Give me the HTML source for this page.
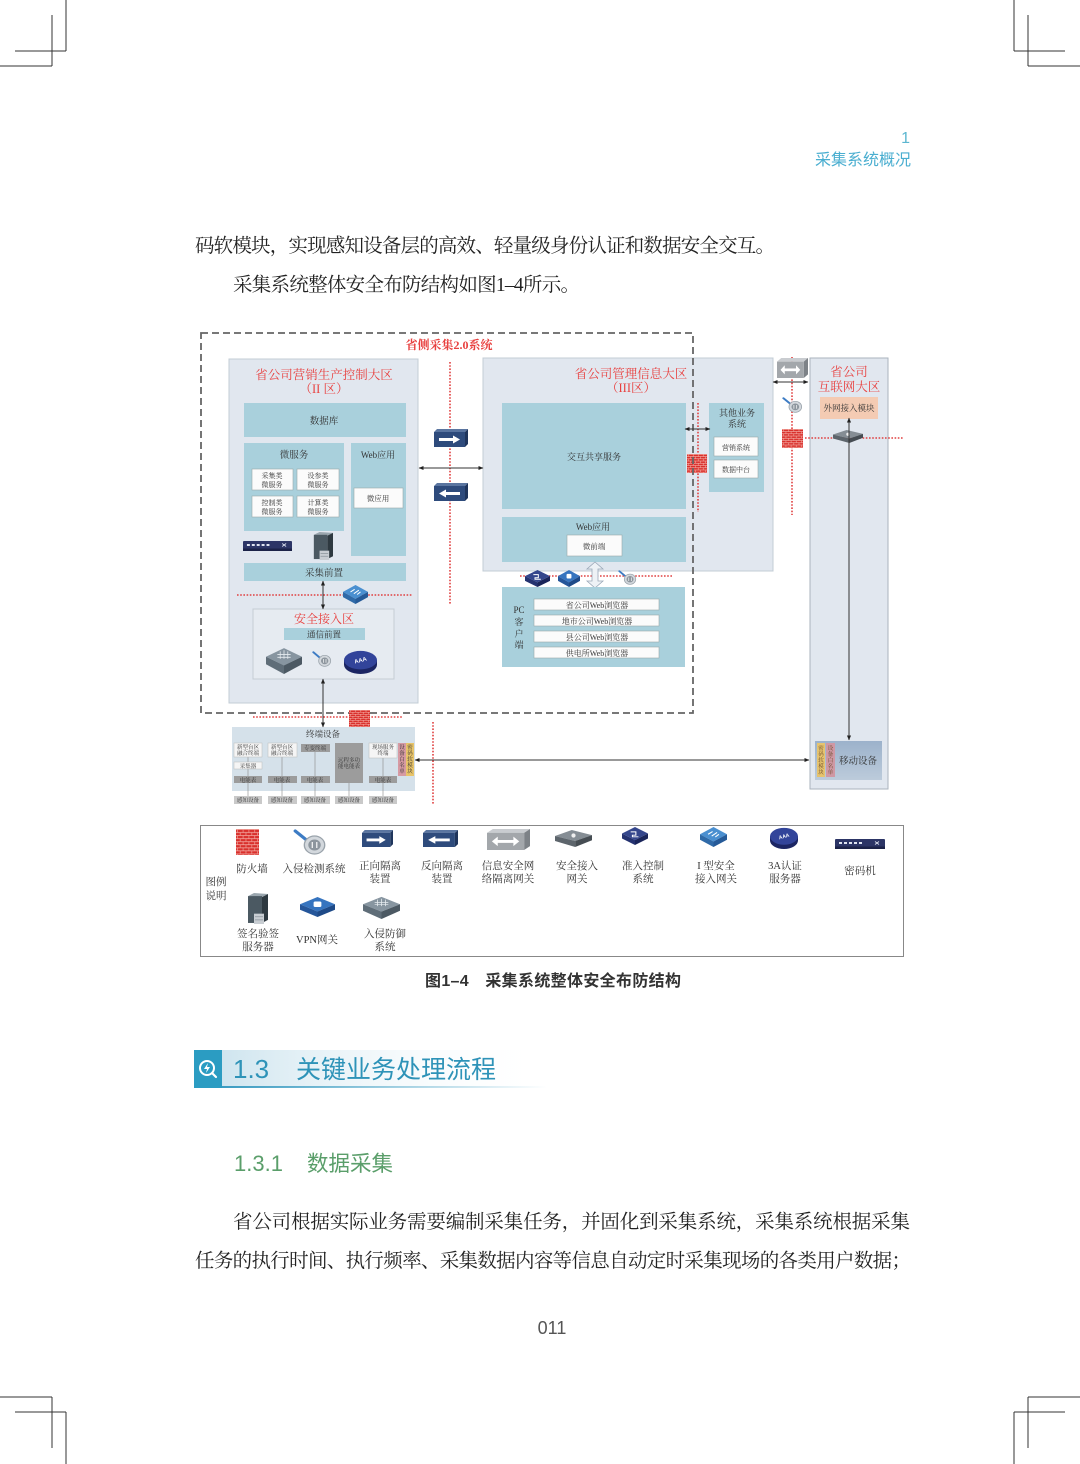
<!DOCTYPE html>
<html><head><meta charset="utf-8">
<style>
html,body{margin:0;padding:0;background:#fff;}
svg{display:block;}
.s{font-family:"Liberation Serif","Noto Serif CJK SC",serif;}
.h{font-family:"Liberation Sans","Noto Sans CJK SC",sans-serif;}
</style></head><body>
<svg width="1080" height="1464" viewBox="0 0 1080 1464" xmlns="http://www.w3.org/2000/svg">
<defs>
<pattern id="brick" width="5" height="4" patternUnits="userSpaceOnUse">
  <rect width="5" height="4" fill="#d9302c"/>
  <path d="M0 0.3H5M0 2.3H5M1.2 0.3V2.3M3.7 2.3V4" stroke="#f6b5ad" stroke-width="0.5" fill="none"/>
</pattern>
<marker id="ar" viewBox="0 0 6 6" markerWidth="5" markerHeight="5" refX="5.5" refY="3" orient="auto-start-reverse" markerUnits="userSpaceOnUse"><path d="M0,0.5L6,3L0,5.5z" fill="#222"/></marker>
<linearGradient id="hbg" x1="0" x2="1" y1="0" y2="0"><stop offset="0" stop-color="#cfe5ef"/><stop offset="1" stop-color="#ffffff" stop-opacity="0"/></linearGradient>
<linearGradient id="hln" x1="0" x2="1" y1="0" y2="0"><stop offset="0" stop-color="#3b9cc2"/><stop offset="1" stop-color="#3b9cc2" stop-opacity="0"/></linearGradient>
<linearGradient id="mob" x1="0" x2="0" y1="0" y2="1"><stop offset="0" stop-color="#9cb2cb"/><stop offset="1" stop-color="#bccbdb"/></linearGradient>

<symbol id="fw" viewBox="0 0 20 17" preserveAspectRatio="none"><rect width="20" height="17" fill="url(#brick)"/></symbol>
<symbol id="ids" viewBox="0 0 30 26" preserveAspectRatio="none">
  <line x1="2" y1="2" x2="13" y2="12" stroke="#3d7cc4" stroke-width="3" stroke-linecap="round"/>
  <circle cx="19" cy="16" r="9" fill="#d3d8dd" stroke="#9aa3ab" stroke-width="1.2"/>
  <circle cx="19" cy="16" r="5.5" fill="#8d969e"/>
  <path d="M17 13v6M21 13v6" stroke="#fff" stroke-width="1"/>
</symbol>
<symbol id="fwd" viewBox="0 0 34 18" preserveAspectRatio="none">
  <polygon points="0,3 3,0 34,0 31,3" fill="#5a75a0"/>
  <polygon points="31,3 34,0 34,15 31,18" fill="#1f355c"/>
  <rect x="0" y="3" width="31" height="15" fill="#2e4b7c"/>
  <rect x="5" y="9" width="15" height="3" fill="#fff"/>
  <polygon points="19,6.5 26,10.5 19,14.5" fill="#fff"/>
</symbol>
<symbol id="rev" viewBox="0 0 34 18" preserveAspectRatio="none">
  <polygon points="0,3 3,0 34,0 31,3" fill="#5a75a0"/>
  <polygon points="31,3 34,0 34,15 31,18" fill="#1f355c"/>
  <rect x="0" y="3" width="31" height="15" fill="#2e4b7c"/>
  <rect x="11" y="9" width="15" height="3" fill="#fff"/>
  <polygon points="12,6.5 5,10.5 12,14.5" fill="#fff"/>
</symbol>
<symbol id="gw" viewBox="0 0 44 22" preserveAspectRatio="none">
  <polygon points="0,4 6,0 44,0 38,4" fill="#c9ccd0"/>
  <polygon points="38,4 44,0 44,18 38,22" fill="#7d8287"/>
  <rect x="0" y="4" width="38" height="18" fill="#a3a7ab"/>
  <path d="M9 13H29" stroke="#fff" stroke-width="3"/>
  <polygon points="5,13 11,8 11,18" fill="#fff"/><polygon points="33,13 27,8 27,18" fill="#fff"/>
</symbol>
<symbol id="sag" viewBox="0 0 44 20" preserveAspectRatio="none">
  <polygon points="0,7 20,0 44,6 24,13" fill="#858d94"/>
  <polygon points="0,7 24,13 24,20 0,13" fill="#5d656c"/>
  <polygon points="24,13 44,6 44,12 24,20" fill="#464d53"/>
  <circle cx="22" cy="6.5" r="2.5" fill="#eee"/>
</symbol>
<symbol id="nac" viewBox="0 0 30 22" preserveAspectRatio="none">
  <polygon points="0,8 15,0 30,8 15,16" fill="#34468c"/>
  <polygon points="0,8 15,16 15,22 0,14" fill="#243270"/>
  <polygon points="15,16 30,8 30,14 15,22" fill="#1a255a"/>
  <path d="M10 6h6v4h-4v2h7" stroke="#fff" stroke-width="1.2" fill="none"/>
</symbol>
<symbol id="isg" viewBox="0 0 30 22" preserveAspectRatio="none">
  <polygon points="0,8 15,0 30,8 15,16" fill="#4a8fd0"/>
  <polygon points="0,8 15,16 15,22 0,14" fill="#2f6aa8"/>
  <polygon points="15,16 30,8 30,14 15,22" fill="#255a98"/>
  <path d="M9 8l5-3M13 10l6-4M17 11l4-3" stroke="#fff" stroke-width="1.2" fill="none"/>
</symbol>
<symbol id="vpn" viewBox="0 0 36 22" preserveAspectRatio="none">
  <polygon points="0,8 18,0 36,8 18,16" fill="#3674bf"/>
  <polygon points="0,8 18,16 18,22 0,14" fill="#25569a"/>
  <polygon points="18,16 36,8 36,14 18,22" fill="#1e4a88"/>
  <rect x="14" y="5" width="8" height="6" rx="1.5" fill="#fff"/>
</symbol>
<symbol id="ips" viewBox="0 0 38 26" preserveAspectRatio="none">
  <polygon points="0,10 19,2 38,10 19,18" fill="#8795a0"/>
  <polygon points="0,10 19,18 19,26 0,17" fill="#5f6d78"/>
  <polygon points="19,18 38,10 38,17 19,26" fill="#4c5963"/>
  <path d="M12 8h14M12 10.5h14M15 5v7M19 4v8M23 5v7" stroke="#e6ecf0" stroke-width="0.8"/>
</symbol>
<symbol id="aaa" viewBox="0 0 34 26" preserveAspectRatio="none">
  <ellipse cx="17" cy="16" rx="17" ry="10" fill="#1b2563"/>
  <rect x="0" y="11" width="34" height="5" fill="#1b2563"/>
  <ellipse cx="17" cy="11" rx="17" ry="10" fill="#32449a"/>
  <text x="17" y="13" font-size="6" fill="#fff" text-anchor="middle" font-family="Liberation Sans" font-weight="bold" transform="rotate(-15 17 11)">AAA</text>
</symbol>
<symbol id="pwm" viewBox="0 0 50 10" preserveAspectRatio="none">
  <rect width="50" height="10" fill="#2c3566" rx="1"/>
  <rect x="0" y="7.5" width="50" height="2.5" fill="#1b2248"/>
  <rect x="4" y="3" width="3" height="2" fill="#dfe4f0"/><rect x="9" y="3" width="3" height="2" fill="#dfe4f0"/>
  <rect x="14" y="3" width="3" height="2" fill="#dfe4f0"/><rect x="19" y="3" width="3" height="2" fill="#dfe4f0"/>
  <rect x="24" y="3" width="3" height="2" fill="#dfe4f0"/>
  <path d="M40 2.5l4 3M44 2.5l-4 3" stroke="#dfe4f0" stroke-width="0.8"/>
</symbol>
<symbol id="srv" viewBox="0 0 24 30" preserveAspectRatio="none">
  <polygon points="4,3 10,0 24,1 18,4" fill="#9aa6ae"/>
  <polygon points="18,4 24,1 24,26 18,29" fill="#2e3940"/>
  <rect x="4" y="3" width="14" height="26" fill="#4b5962"/>
  <rect x="10" y="20" width="10" height="10" fill="#c8cdd2"/>
  <path d="M11 23h8M11 26h8" stroke="#8a949b" stroke-width="0.8"/>
</symbol>
</defs>

<!-- crop marks -->
<g stroke="#333" stroke-width="1" fill="none">
  <path d="M66 0V51M15 51H66M52 15V66M0 66H52"/>
  <path d="M1014 0V51M1014 51H1065M1028 15V66M1028 66H1080"/>
  <path d="M0 1397H52M52 1397V1448M15 1412H66M66 1412V1464"/>
  <path d="M1028 1397H1080M1028 1397V1448M1014 1412H1065M1014 1412V1464"/>
</g>

<!-- header -->
<text x="910" y="143" font-size="16" fill="#5bb6d0" text-anchor="end" class="h">1</text>
<text x="911" y="165" font-size="16" fill="#4aaed0" text-anchor="end" class="h">采集系统概况</text>

<!-- body text top -->
<text x="195" y="252" font-size="19.5" fill="#222" class="s" textLength="580" lengthAdjust="spacing">码软模块，实现感知设备层的高效、轻量级身份认证和数据安全交互。</text>
<text x="233" y="291" font-size="19.5" fill="#222" class="s" textLength="347" lengthAdjust="spacing">采集系统整体安全布防结构如图1–4所示。</text>

<!-- ===== DIAGRAM ===== -->
<!-- zone II -->
<rect x="229" y="359" width="189" height="344" fill="#e1e7ef" stroke="#c3ccd5" stroke-width="1"/>
<text x="324" y="379" font-size="12.5" fill="#e8403f" text-anchor="middle" class="s">省公司营销生产控制大区</text>
<text x="324" y="393" font-size="12.5" fill="#e8403f" text-anchor="middle" class="s">（II 区）</text>
<rect x="244" y="403" width="162" height="34" fill="#a9d0dc"/>
<text x="324" y="424" font-size="9.5" fill="#333" text-anchor="middle" class="s">数据库</text>
<rect x="244" y="443" width="100" height="88" fill="#a9d0dc"/>
<text x="294" y="458" font-size="9.5" fill="#333" text-anchor="middle" class="s">微服务</text>
<g fill="#fbfbfb" stroke="#9aa" stroke-width="0.6">
  <rect x="252" y="469" width="41" height="21"/><rect x="297" y="469" width="42" height="21"/>
  <rect x="252" y="496" width="41" height="21"/><rect x="297" y="496" width="42" height="21"/>
</g>
<g font-size="7" fill="#333" text-anchor="middle" class="s">
  <text x="272" y="478">采集类</text><text x="272" y="487">微服务</text>
  <text x="318" y="478">设参类</text><text x="318" y="487">微服务</text>
  <text x="272" y="505">控制类</text><text x="272" y="514">微服务</text>
  <text x="318" y="505">计算类</text><text x="318" y="514">微服务</text>
</g>
<rect x="351" y="443" width="55" height="113" fill="#a9d0dc"/>
<text x="378" y="458" font-size="9" fill="#333" text-anchor="middle" class="s">Web应用</text>
<rect x="354" y="488" width="49" height="20" fill="#fbfbfb" stroke="#9aa" stroke-width="0.6"/>
<text x="378" y="501" font-size="7.5" fill="#333" text-anchor="middle" class="s">微应用</text>
<use href="#pwm" x="243" y="541" width="49" height="10"/>
<use href="#srv" x="310" y="532" width="23" height="28"/>
<rect x="244" y="563" width="162" height="18" fill="#a9d0dc"/>
<text x="324" y="576" font-size="9.5" fill="#333" text-anchor="middle" class="s">采集前置</text>

<!-- security access zone -->
<rect x="253" y="609" width="141" height="70" fill="#e6ebf1" stroke="#c5ccd4" stroke-width="1"/>
<text x="324" y="623" font-size="12" fill="#e8403f" text-anchor="middle" class="s">安全接入区</text>
<rect x="284" y="628" width="81" height="12" fill="#a9d0dc"/>
<text x="324" y="637.5" font-size="8.5" fill="#333" text-anchor="middle" class="s">通信前置</text>
<use href="#ips" x="266" y="646" width="36" height="28"/>
<use href="#ids" x="312" y="651" width="20" height="16"/>
<use href="#aaa" x="344" y="650" width="33" height="24"/>

<!-- zone III -->
<rect x="483" y="358" width="290" height="213" fill="#e1e7ef" stroke="#c3ccd5" stroke-width="1"/>
<text x="631" y="378" font-size="12.5" fill="#e8403f" text-anchor="middle" class="s">省公司管理信息大区</text>
<text x="631" y="392" font-size="12.5" fill="#e8403f" text-anchor="middle" class="s">（III区）</text>
<rect x="502" y="403" width="184" height="106" fill="#a9d0dc"/>
<text x="594" y="460" font-size="9" fill="#333" text-anchor="middle" class="s">交互共享服务</text>
<rect x="502" y="517" width="184" height="45" fill="#a9d0dc"/>
<text x="593" y="530" font-size="9" fill="#333" text-anchor="middle" class="s">Web应用</text>
<rect x="567" y="535" width="55" height="21" fill="#fbfbfb" stroke="#9aa" stroke-width="0.6"/>
<text x="594" y="549" font-size="7.5" fill="#333" text-anchor="middle" class="s">微前端</text>
<rect x="709" y="403" width="55" height="89" fill="#a9d0dc"/>
<text x="737" y="416" font-size="9" fill="#333" text-anchor="middle" class="s">其他业务</text>
<text x="737" y="427" font-size="9" fill="#333" text-anchor="middle" class="s">系统</text>
<rect x="714" y="437" width="44" height="19" fill="#fbfbfb" stroke="#9aa" stroke-width="0.6"/>
<text x="736" y="450" font-size="7" fill="#333" text-anchor="middle" class="s">营销系统</text>
<rect x="714" y="460" width="44" height="18" fill="#fbfbfb" stroke="#9aa" stroke-width="0.6"/>
<text x="736" y="472" font-size="7" fill="#333" text-anchor="middle" class="s">数据中台</text>

<!-- zone IV -->
<rect x="810" y="358" width="78" height="431" fill="#e1e7ef" stroke="#aab3bd" stroke-width="1"/>
<text x="849" y="376" font-size="12.5" fill="#e8403f" text-anchor="middle" class="s">省公司</text>
<text x="849" y="391" font-size="12.5" fill="#e8403f" text-anchor="middle" class="s">互联网大区</text>
<rect x="820" y="397" width="58" height="22" fill="#f4cbb3"/>
<text x="849" y="411" font-size="8.5" fill="#333" text-anchor="middle" class="s">外网接入模块</text>
<rect x="815" y="741" width="67" height="39" fill="url(#mob)"/>
<rect x="817" y="743" width="8" height="34" fill="#e6c36e"/>
<rect x="826" y="743" width="9" height="34" fill="#cf98a4"/>
<g font-size="5.5" fill="#6a4a2a" text-anchor="middle" class="s">
  <text x="821" y="750">密</text><text x="821" y="756">码</text><text x="821" y="762">软</text><text x="821" y="768">模</text><text x="821" y="774">块</text>
  <text x="830.5" y="750">设</text><text x="830.5" y="756">备</text><text x="830.5" y="762">白</text><text x="830.5" y="768">名</text><text x="830.5" y="774">单</text>
</g>
<text x="858" y="764" font-size="9.5" fill="#333" text-anchor="middle" class="s">移动设备</text>

<!-- red dotted lines -->
<g stroke="#e04040" stroke-width="1.6" stroke-dasharray="1.6 1.6" fill="none">
  <path d="M450 362V605"/>
  <path d="M237 595H413"/>
  <path d="M253 717H403"/>
  <path d="M433 722V804"/>
  <path d="M698 403V512"/>
  <path d="M520 576H672"/>
  <path d="M792 357V515"/>
  <path d="M805 438H903"/>
</g>
<use href="#isg" x="343" y="585" width="25" height="19"/>

<!-- isolation devices -->
<use href="#fwd" x="434" y="429" width="34" height="18"/>
<use href="#rev" x="434" y="483" width="34" height="18"/>
<use href="#fw" x="687" y="454" width="20" height="19"/>

<!-- PC client -->
<use href="#nac" x="525" y="570" width="25" height="17"/>
<use href="#vpn" x="558" y="570" width="22" height="17"/>
<use href="#ids" x="618" y="570" width="19" height="15"/>
<polygon points="595,562 603,569 598,569 598,581 603,581 595,588 587,581 592,581 592,569 587,569" fill="#eef2f6" stroke="#9aa8b8" stroke-width="0.8"/>
<rect x="502" y="587" width="183" height="80" fill="#a9d0dc"/>
<g font-size="9" fill="#333" text-anchor="middle" class="s">
  <text x="519" y="613">PC</text><text x="519" y="625">客</text><text x="519" y="637">户</text><text x="519" y="648">端</text>
</g>
<g fill="#fbfbfb" stroke="#9aa" stroke-width="0.6">
  <rect x="534" y="599" width="125" height="11"/><rect x="534" y="615" width="125" height="11"/>
  <rect x="534" y="631" width="125" height="11"/><rect x="534" y="647" width="125" height="11"/>
</g>
<g font-size="8" fill="#333" text-anchor="middle" class="s">
  <text x="597" y="608">省公司Web浏览器</text>
  <text x="597" y="624">地市公司Web浏览器</text>
  <text x="597" y="640">县公司Web浏览器</text>
  <text x="597" y="656">供电所Web浏览器</text>
</g>

<!-- outer dashed box -->
<rect x="201" y="333" width="492" height="380" fill="none" stroke="#666" stroke-width="1.8" stroke-dasharray="7 4"/>
<text x="449" y="349" font-size="12" fill="#e8403f" text-anchor="middle" font-weight="bold" class="s">省侧采集2.0系统</text>

<!-- right connector -->
<use href="#gw" x="777" y="358" width="31" height="20"/>
<use href="#ids" x="782" y="397" width="21" height="16"/>
<use href="#fw" x="782" y="429" width="21" height="19"/>

<!-- terminal devices -->
<rect x="232" y="727" width="183" height="64" fill="#d5e1ea"/>
<text x="323" y="737" font-size="8.5" fill="#333" text-anchor="middle" class="s">终端设备</text>
<g stroke="#888" stroke-width="0.6">
  <path d="M248 757V762M248 769V776M248 783V796"/>
  <path d="M282 757V776M282 783V796"/>
  <path d="M315 752V776M315 783V796"/>
  <path d="M349 783V796"/>
  <path d="M383 758V776M383 783V796"/>
</g>
<g fill="#f5f5f5" stroke="#bbb" stroke-width="0.5">
  <rect x="234" y="743" width="28" height="14"/>
  <rect x="234" y="762" width="28" height="7"/>
  <rect x="268" y="743" width="29" height="14"/>
  <rect x="369" y="743" width="28" height="15"/>
</g>
<g fill="#9c9c9c">
  <rect x="234" y="776" width="28" height="7"/>
  <rect x="268" y="776" width="29" height="7"/>
  <rect x="301" y="744" width="29" height="8"/>
  <rect x="301" y="776" width="29" height="7"/>
  <rect x="335" y="743" width="28" height="40"/>
  <rect x="369" y="776" width="28" height="7"/>
</g>
<rect x="398" y="743" width="8" height="33" fill="#d69aa3"/>
<rect x="406" y="743" width="8" height="33" fill="#e8c46a"/>
<g fill="#c9c9c9">
  <rect x="234" y="796" width="28" height="8"/><rect x="268" y="796" width="29" height="8"/>
  <rect x="301" y="796" width="29" height="8"/><rect x="335" y="796" width="28" height="8"/>
  <rect x="369" y="796" width="28" height="8"/>
</g>
<g font-size="5.5" fill="#333" text-anchor="middle" class="s">
  <text x="248" y="749">新型台区</text><text x="248" y="755">融合终端</text>
  <text x="248" y="768">采集器</text>
  <text x="248" y="782">电能表</text>
  <text x="282" y="749">新型台区</text><text x="282" y="755">融合终端</text>
  <text x="282" y="782">电能表</text>
  <text x="315" y="750">专变终端</text>
  <text x="315" y="782">电能表</text>
  <text x="349" y="762">远程多功</text><text x="349" y="768">能电能表</text>
  <text x="383" y="749">现场服务</text><text x="383" y="755">终端</text>
  <text x="383" y="782">电能表</text>
  <text x="248" y="802">感知设备</text><text x="282" y="802">感知设备</text>
  <text x="315" y="802">感知设备</text><text x="349" y="802">感知设备</text>
  <text x="383" y="802">感知设备</text>
  <text x="402" y="749">设</text><text x="402" y="755">备</text><text x="402" y="761">白</text><text x="402" y="767">名</text><text x="402" y="773">单</text>
  <text x="410" y="749">密</text><text x="410" y="755">码</text><text x="410" y="761">软</text><text x="410" y="767">模</text><text x="410" y="773">块</text>
</g>
<use href="#fw" x="349" y="710" width="21" height="17"/>
<use href="#sag" x="833" y="430" width="30" height="13"/>

<!-- arrows -->
<g stroke="#333" stroke-width="1" fill="none" marker-start="url(#ar)" marker-end="url(#ar)">
  <path d="M419 468H483"/>
  <path d="M685 429H710"/>
  <path d="M773 382H808"/>
  <path d="M415 760H809"/>
  <path d="M849 418V740"/>
  <path d="M323 581V609"/>
  <path d="M323 679V727"/>
</g>

<!-- legend -->
<rect x="200.5" y="825.5" width="703" height="131" fill="none" stroke="#888" stroke-width="1"/>
<g font-size="10.5" fill="#333" text-anchor="middle" class="s">
  <text x="216" y="885">图例</text><text x="216" y="899">说明</text>
  <text x="252" y="872">防火墙</text>
  <text x="314" y="872">入侵检测系统</text>
  <text x="380" y="869">正向隔离</text><text x="380" y="882">装置</text>
  <text x="442" y="869">反向隔离</text><text x="442" y="882">装置</text>
  <text x="508" y="869">信息安全网</text><text x="508" y="882">络隔离网关</text>
  <text x="577" y="869">安全接入</text><text x="577" y="882">网关</text>
  <text x="643" y="869">准入控制</text><text x="643" y="882">系统</text>
  <text x="716" y="869">I 型安全</text><text x="716" y="882">接入网关</text>
  <text x="785" y="869">3A认证</text><text x="785" y="882">服务器</text>
  <text x="860" y="874">密码机</text>
  <text x="258" y="937">签名验签</text><text x="258" y="950">服务器</text>
  <text x="317" y="943">VPN网关</text>
  <text x="385" y="937">入侵防御</text><text x="385" y="950">系统</text>
</g>
<use href="#fw" x="236" y="829" width="23" height="26"/>
<use href="#ids" x="293" y="829" width="34" height="26"/>
<use href="#fwd" x="362" y="830" width="31" height="17"/>
<use href="#rev" x="423" y="830" width="35" height="17"/>
<use href="#gw" x="487" y="829" width="43" height="21"/>
<use href="#sag" x="555" y="830" width="37" height="17"/>
<use href="#nac" x="622" y="827" width="26" height="18"/>
<use href="#isg" x="700" y="827" width="27" height="20"/>
<use href="#aaa" x="770" y="827" width="28" height="22"/>
<use href="#pwm" x="835" y="839" width="50" height="10"/>
<use href="#srv" x="244" y="893" width="24" height="31"/>
<use href="#vpn" x="300" y="897" width="35" height="20"/>
<use href="#ips" x="363" y="895" width="37" height="24"/>

<!-- caption -->
<text x="425" y="986" font-size="16" fill="#333" font-weight="bold" class="h" textLength="256" lengthAdjust="spacing">图1–4　采集系统整体安全布防结构</text>

<!-- section heading -->
<rect x="222" y="1050" width="325" height="37" fill="url(#hbg)"/>
<rect x="222" y="1086" width="325" height="2" fill="url(#hln)"/>
<rect x="194" y="1050" width="28" height="38" fill="#2b9cc2"/>
<circle cx="207" cy="1068" r="7" fill="none" stroke="#fff" stroke-width="2"/>
<path d="M212 1073L216 1077" stroke="#fff" stroke-width="2.2" stroke-linecap="round"/>
<polygon points="208,1063 204,1069 207,1069 206,1073 210,1067 207,1067" fill="#fff"/>
<text x="233" y="1078" font-size="26" fill="#2e93b8" class="h">1.3</text>
<text x="296" y="1078" font-size="25" fill="#2e93b8" class="h">关键业务处理流程</text>

<text x="234" y="1171" font-size="22" fill="#5a9e6a" class="h">1.3.1</text>
<text x="307" y="1171" font-size="21.5" fill="#5a9e6a" class="h">数据采集</text>

<!-- body text bottom -->
<text x="233" y="1228" font-size="19.5" fill="#222" class="s" textLength="677" lengthAdjust="spacing">省公司根据实际业务需要编制采集任务，并固化到采集系统，采集系统根据采集</text>
<text x="195" y="1267" font-size="19.5" fill="#222" class="s" textLength="716" lengthAdjust="spacing">任务的执行时间、执行频率、采集数据内容等信息自动定时采集现场的各类用户数据；</text>

<!-- page number -->
<text x="552" y="1334" font-size="18" fill="#555" text-anchor="middle" class="h">011</text>
</svg>
</body></html>
